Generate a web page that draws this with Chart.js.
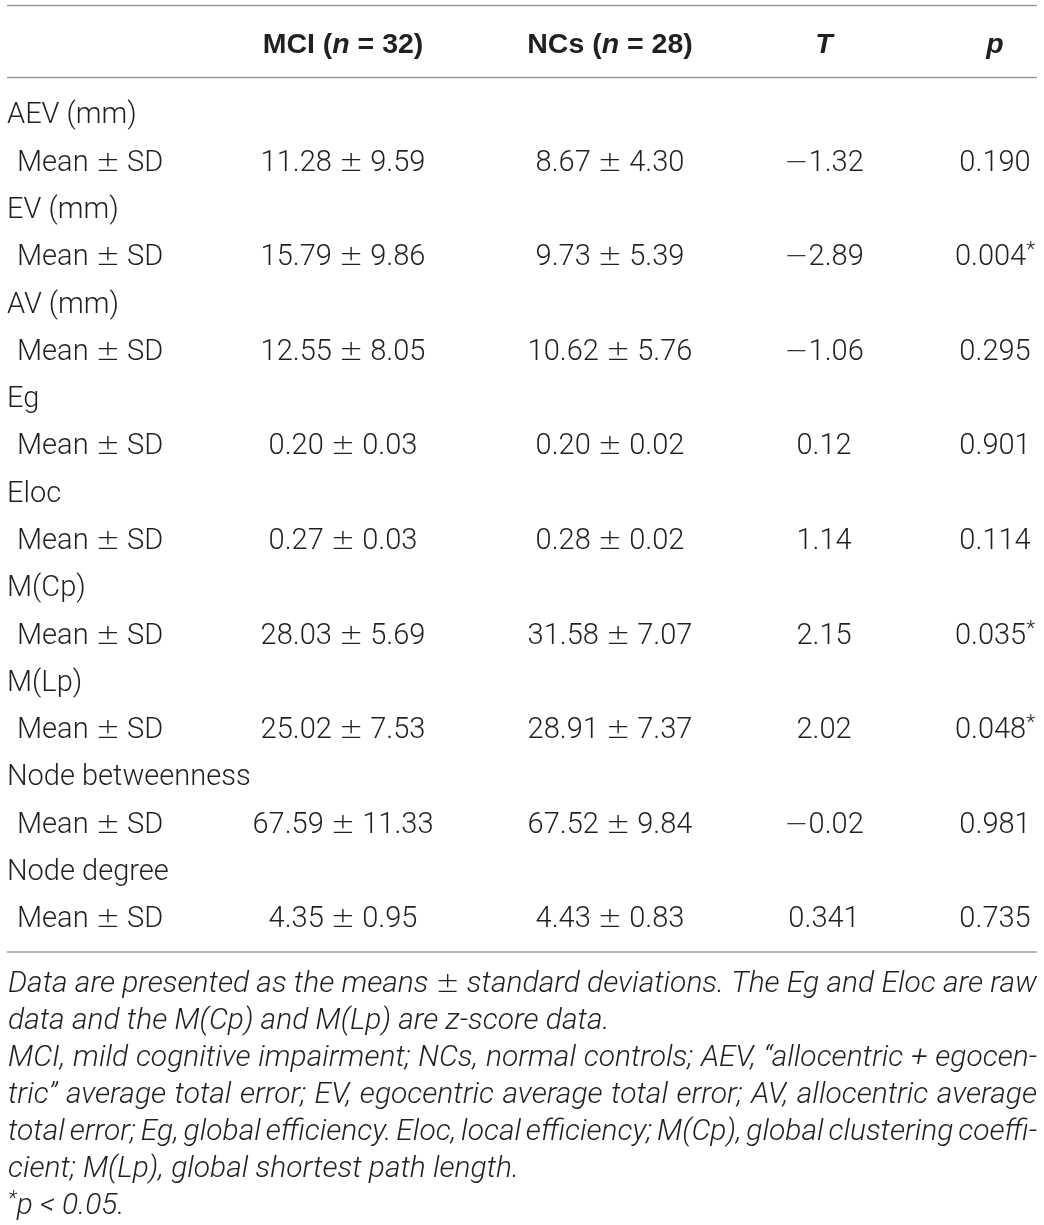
<!DOCTYPE html>
<html>
<head>
<meta charset="utf-8">
<script src="https://cdn.jsdelivr.net/npm/chart.js@4.4.1/dist/chart.umd.min.js"></script>
<style>
html,body{margin:0;padding:0;background:#fff;}
#wrap{width:1044px;height:1225px;position:relative;}
</style>
</head>
<body>
<div id="wrap"><canvas id="c"></canvas></div>
<script>
// ---------- DATA ----------
const groups = ['AEV (mm)', 'EV (mm)', 'AV (mm)', 'Eg', 'Eloc', 'M(Cp)', 'M(Lp)', 'Node betweenness', 'Node degree'];
const statLabel = 'Mean \u00B1 SD';
const mciMean = [11.28, 15.79, 12.55, 0.20, 0.27, 28.03, 25.02, 67.59, 4.35];
const mciSD   = [9.59, 9.86, 8.05, 0.03, 0.03, 5.69, 7.53, 11.33, 0.95];
const ncMean  = [8.67, 9.73, 10.62, 0.20, 0.28, 31.58, 28.91, 67.52, 4.43];
const ncSD    = [4.30, 5.39, 5.76, 0.02, 0.02, 7.07, 7.37, 9.84, 0.83];
const tValues = [-1.32, -2.89, -1.06, 0.12, 1.14, 2.15, 2.02, -0.02, 0.341];
const pValues = [0.190, 0.004, 0.295, 0.901, 0.114, 0.035, 0.048, 0.981, 0.735];
const significant = [false, true, false, false, false, true, true, false, false];
const groupNames = ['MCI', 'NCs'];
const groupN = [32, 28];
const statHeaders = ['T', 'p'];
const footnoteLines = [
  'Data are presented as the means \u00B1 standard deviations. The Eg and Eloc are raw',
  'data and the M(Cp) and M(Lp) are z-score data.',
  'MCI, mild cognitive impairment; NCs, normal controls; AEV, \u201Callocentric + egocen-',
  'tric\u201D average total error; EV, egocentric average total error; AV, allocentric average',
  'total error; Eg, global efficiency. Eloc, local efficiency; M(Cp), global clustering coeffi-',
  'cient; M(Lp), global shortest path length.'
];
const footnoteJustify = [true, false, true, true, true, false];
const sigNote = 'p < 0.05.';

// ---------- LAYOUT / STYLE ----------
const W = 1044, H = 1225;
const colAnchors = [7, 343, 610, 824, 995];   // x-scale units (label col = left edge, others = centres)
const subIndent = 10;
const TEXT = '#231f20';
const RULE = '#9a9a9a';
const BODY = '300 29px Roboto, "Liberation Sans", sans-serif';
const SYM = '200 29px "DejaVu Sans", "Liberation Sans", sans-serif';
const BOLD = 'bold 28.5px "Liberation Sans", Arial, sans-serif';
const BOLDIT = 'italic bold 28.5px "Liberation Sans", Arial, sans-serif';
const SUP = '300 21px Roboto, "Liberation Sans", sans-serif';
const NOTE_BASE = 27;

const rowLabels = [];
groups.forEach(g => { rowLabels.push(g); rowLabels.push(statLabel); });

function fmtSigned(v, d) {
  const s = Math.abs(v).toFixed(d);
  return (v < 0 ? '\u2212' : '') + s;
}
function decimals(v) {
  const s = String(v); const i = s.indexOf('.');
  return i < 0 ? 0 : Math.max(2, s.length - i - 1);
}
// split text into runs so that \u00B1 and \u2212 use the symbol font
function symRuns(text, font, sym) {
  const runs = [];
  let cur = '';
  for (const ch of text) {
    if (ch === '\u00B1' || ch === '\u2212') {
      if (cur) runs.push({ text: cur, font });
      runs.push({ text: ch, font: sym });
      cur = '';
    } else cur += ch;
  }
  if (cur) runs.push({ text: cur, font });
  return runs;
}
function runsWidth(ctx, runs) {
  let w = 0;
  for (const r of runs) { ctx.font = r.font; w += ctx.measureText(r.text).width; }
  return w;
}
function drawRuns(ctx, runs, x, y, align) {
  const w = runsWidth(ctx, runs);
  let cx = align === 'center' ? x - w / 2 : (align === 'right' ? x - w : x);
  for (const r of runs) {
    ctx.font = r.font;
    ctx.fillText(r.text, cx, y + (r.dy || 0));
    cx += ctx.measureText(r.text).width;
  }
}
function drawJustified(ctx, text, x0, x1, y, justify, font, sym) {
  const words = text.split(' ');
  const wr = words.map(w => symRuns(w, font, sym));
  const ws = wr.map(r => runsWidth(ctx, r));
  ctx.font = font;
  const space = ctx.measureText(' ').width;
  let gap = space;
  if (justify) {
    const sum = ws.reduce((a, b) => a + b, 0);
    gap = Math.max(2, (x1 - x0 - sum) / (words.length - 1));
  }
  let cx = x0;
  wr.forEach((r, i) => { drawRuns(ctx, r, cx, y, 'left'); cx += ws[i] + gap; });
}

const tablePlugin = {
  id: 'tablePlugin',
  afterDraw(chart) {
    const ctx = chart.ctx;
    const xs = chart.scales.x, ys = chart.scales.y;
    const ca = chart.chartArea;
    const left = xs.getPixelForValue(colAnchors[0]);
    const right = xs.getPixelForValue(W - 7);
    const topRule = ca.top - 84;
    const headRule = ca.top - 12;
    const bottomRule = ca.bottom + 11.5;
    const headerY = ys.getPixelForValue(0) - 70;
    ctx.save();
    ctx.fillStyle = TEXT;
    ctx.textAlign = 'left';
    ctx.textBaseline = 'alphabetic';

    // rules
    ctx.strokeStyle = RULE;
    ctx.lineWidth = 1.5;
    [topRule, headRule, bottomRule].forEach(y => {
      ctx.beginPath(); ctx.moveTo(left, y); ctx.lineTo(right, y); ctx.stroke();
    });

    // header
    const hb = headerY + 10;
    groupNames.forEach((g, i) => {
      drawRuns(ctx, [
        { text: g + ' (', font: BOLD },
        { text: 'n', font: BOLDIT },
        { text: ' = ' + groupN[i] + ')', font: BOLD }
      ], xs.getPixelForValue(colAnchors[1 + i]), hb, 'center');
    });
    statHeaders.forEach((s, i) => {
      drawRuns(ctx, [{ text: s, font: BOLDIT }], xs.getPixelForValue(colAnchors[3 + i]), hb, 'center');
    });

    // body
    const base = 10.3;
    rowLabels.forEach((lab, r) => {
      const y = ys.getPixelForValue(r) + base;
      const isSub = r % 2 === 1;
      drawRuns(ctx, symRuns(lab, BODY, SYM), xs.getPixelForValue(colAnchors[0] + (isSub ? subIndent : 0)), y, 'left');
      if (!isSub) return;
      const g = (r - 1) / 2;
      const cells = [
        mciMean[g].toFixed(2) + ' \u00B1 ' + mciSD[g].toFixed(2),
        ncMean[g].toFixed(2) + ' \u00B1 ' + ncSD[g].toFixed(2),
        fmtSigned(tValues[g], decimals(tValues[g]))
      ];
      cells.forEach((c, k) => {
        drawRuns(ctx, symRuns(c, BODY, SYM), xs.getPixelForValue(colAnchors[1 + k]), y, 'center');
      });
      const pr = [{ text: pValues[g].toFixed(3), font: BODY }];
      if (significant[g]) pr.push({ text: '*', font: SUP, dy: -9 });
      drawRuns(ctx, pr, xs.getPixelForValue(colAnchors[4]), y, 'center');
    });

    // footnotes: size the italic text so the first line fills the measure
    const noteX0 = left + 1, noteX1 = right;
    const mkNote = s => 'italic 300 ' + s + 'px Roboto, "Liberation Sans", sans-serif';
    ctx.font = mkNote(NOTE_BASE);
    const natural = ctx.measureText(footnoteLines[0]).width;
    const ns = Math.min(30, NOTE_BASE * (noteX1 - noteX0 - 8) / natural);
    const NOTE = mkNote(ns);
    const NOTESYM = '200 ' + (ns * 0.95) + 'px "DejaVu Sans", "Liberation Sans", sans-serif';
    const NOTESUP = 'italic 300 ' + (ns * 0.7) + 'px Roboto, "Liberation Sans", sans-serif';
    const lh = 37;
    let ny = bottomRule + 30 + 9.8;
    footnoteLines.forEach((line, i) => {
      drawJustified(ctx, line, noteX0, noteX1, ny, footnoteJustify[i], NOTE, NOTESYM);
      ny += lh;
    });
    drawRuns(ctx, [
      { text: '*', font: NOTESUP, dy: -9 },
      { text: sigNote, font: NOTE }
    ], noteX0, ny, 'left');
    ctx.restore();
  }
};

new Chart(document.getElementById('c'), {
  type: 'scatter',
  data: { datasets: [{ data: [], pointRadius: 0 }] },
  options: {
    responsive: true,
    maintainAspectRatio: false,
    animation: false,
    events: [],
    layout: { padding: { top: 89.4, bottom: H - 940.6, left: 0, right: 0 } },
    plugins: { legend: { display: false }, tooltip: { enabled: false }, title: { display: false } },
    scales: {
      x: { type: 'linear', min: 0, max: W, display: false },
      y: { type: 'category', labels: rowLabels, offset: true, display: false }
    }
  },
  plugins: [tablePlugin]
});
</script>
</body>
</html>
